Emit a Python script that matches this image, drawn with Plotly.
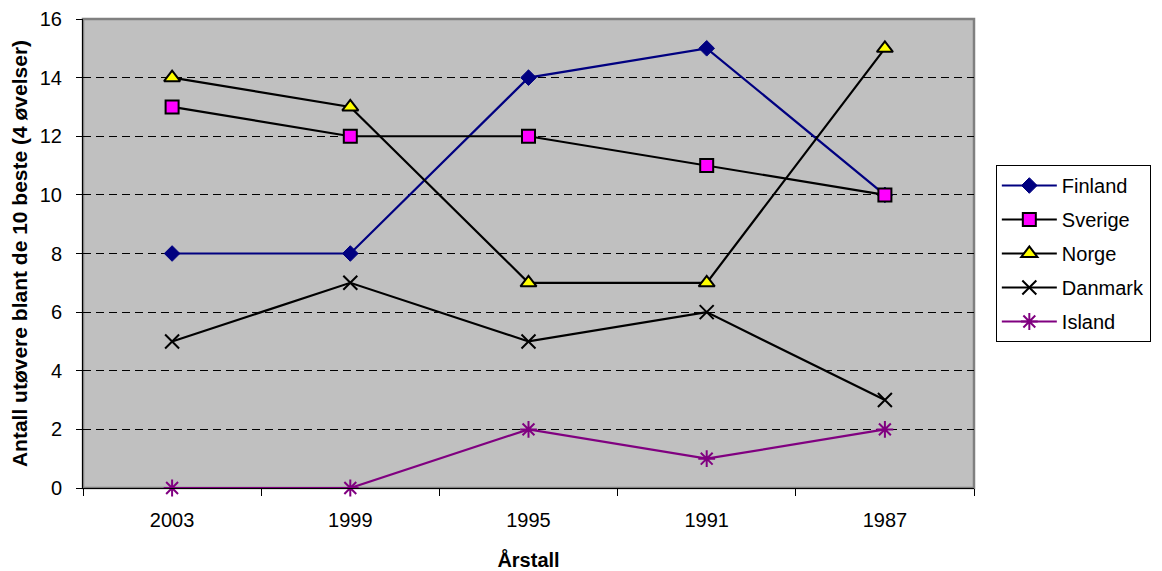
import plotly.graph_objects as go

years = ["2003", "1999", "1995", "1991", "1987"]
finland = [8, 8, 14, 15, 10]
sverige = [13, 12, 12, 11, 10]
norge = [14, 13, 7, 7, 15]
danmark = [5, 7, 5, 6, 3]
island = [0, 0, 2, 1, 2]

LW = 2.2
fig = go.Figure()
fig.add_trace(go.Scatter(x=years, y=finland, name="Finland", mode="lines+markers", legendgroup="a",
    cliponaxis=False,
    line=dict(color="#000080", width=LW),
    marker=dict(symbol="diamond", size=12, color="#000080", line=dict(color="#000080", width=1))))
fig.add_trace(go.Scatter(x=years, y=sverige, name="Sverige", mode="lines+markers", legendgroup="b",
    cliponaxis=False,
    line=dict(color="#000000", width=LW),
    marker=dict(symbol="square", size=13, color="#FF00FF", line=dict(color="#000000", width=2))))
fig.add_trace(go.Scatter(x=years, y=norge, name="Norge", mode="lines+markers", legendgroup="c",
    cliponaxis=False,
    line=dict(color="#000000", width=LW),
    marker=dict(symbol="triangle-up", size=14, color="#FFFF00", line=dict(color="#000000", width=2))))
fig.add_trace(go.Scatter(x=years, y=danmark, name="Danmark", mode="lines+markers", legendgroup="d",
    cliponaxis=False,
    line=dict(color="#000000", width=LW),
    marker=dict(symbol="x-thin-open", size=14, color="#000000", line=dict(color="#000000", width=2))))
fig.add_trace(go.Scatter(x=years, y=island, name="Island", mode="lines+markers", legendgroup="e",
    cliponaxis=False,
    line=dict(color="#800080", width=LW),
    marker=dict(symbol="asterisk-open", size=14, color="#800080", line=dict(color="#800080", width=2))))

fig.update_layout(
    width=1154, height=563,
    margin=dict(l=75, r=188, t=11, b=83, autoexpand=False),
    paper_bgcolor="white",
    plot_bgcolor="#C0C0C0",
    font=dict(family="Liberation Sans, Arial", size=20, color="black"),
    showlegend=True,
    legend=dict(x=1.0245, y=0.5, xanchor="left", yanchor="middle",
                bordercolor="black", borderwidth=1, bgcolor="white",
                font=dict(size=20), tracegroupgap=5, itemwidth=55),
    shapes=[dict(type="rect", xref="paper", yref="paper", x0=0, x1=1, y0=0, y1=1,
                 line=dict(color="#808080", width=2.5), fillcolor="rgba(0,0,0,0)", layer="below")],
)
fig.update_xaxes(
    type="category", tickson="boundaries", ticks="outside", ticklen=7, tickcolor="black",
    ticklabelstandoff=14, automargin=False,
    showline=True, linecolor="black", linewidth=1, showgrid=False, zeroline=False,
    title=dict(text="<b>Årstall</b>", font=dict(size=20), standoff=22),
    range=[-0.5, 4.5],
)
fig.update_yaxes(
    range=[0, 16], dtick=2, ticks="outside", ticklen=6, tickcolor="black",
    ticklabelstandoff=10, ticklabeloverflow="allow", automargin=False,
    showline=True, linecolor="black", linewidth=1,
    showgrid=True, gridcolor="black", griddash="8px,5px", gridwidth=1, zeroline=False,
    title=dict(text="<b>Antall utøvere blant de 10 beste (4 øvelser)</b>", font=dict(size=21), standoff=10),
)

fig.write_html("out.html")
